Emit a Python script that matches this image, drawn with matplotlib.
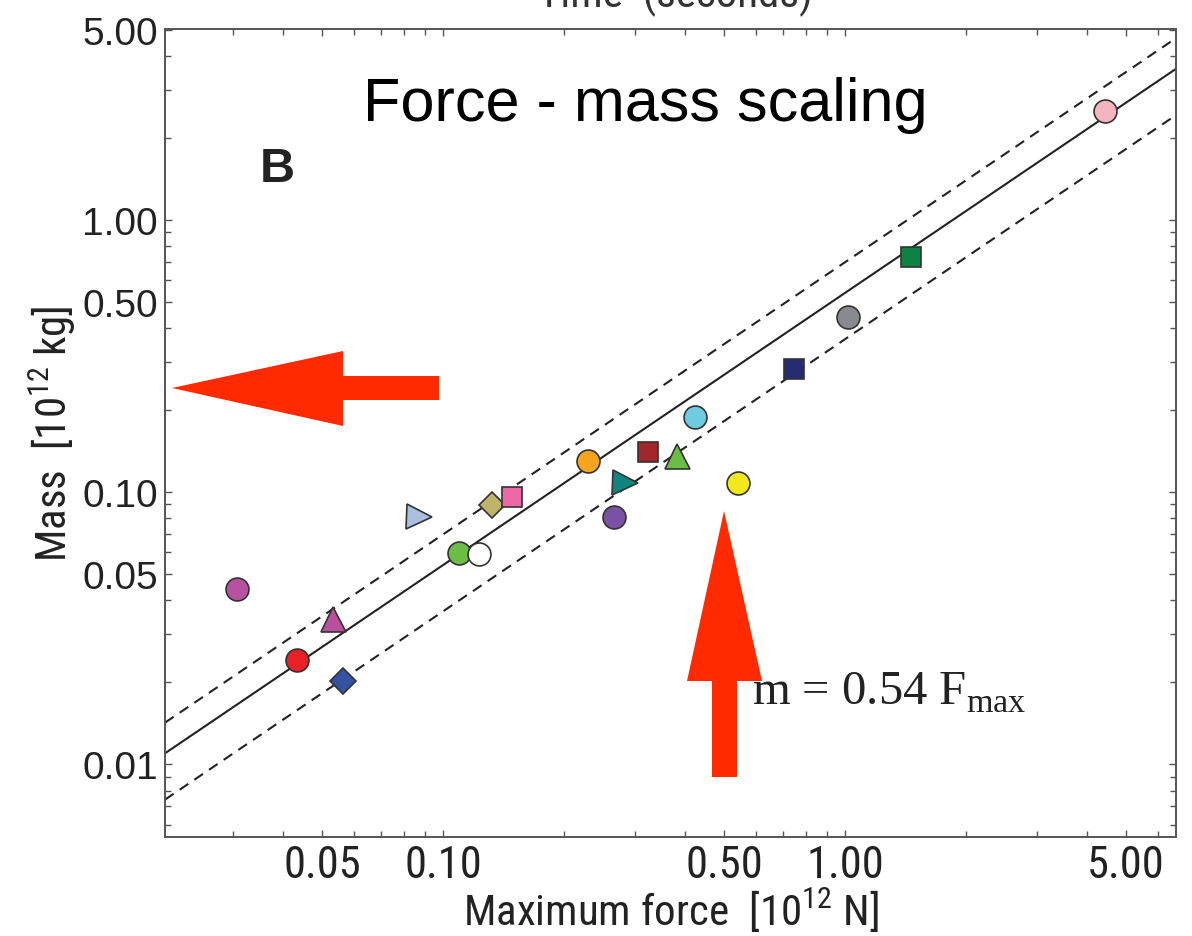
import matplotlib
matplotlib.use('Agg')
import matplotlib.pyplot as plt
from matplotlib.patches import Polygon
from matplotlib.ticker import FixedLocator, LogLocator, NullFormatter
import numpy as np

plt.rcParams['mathtext.fontset'] = 'custom'
plt.rcParams['mathtext.rm'] = 'Liberation Serif'
plt.rcParams['mathtext.sf'] = 'Roboto Condensed'

# species data: max force (1e12 N) vs mass (1e12 kg)
force = [0.0306, 0.0532, 0.0433, 0.0564, 0.0871, 0.1096, 0.123, 0.1324, 0.1485,
         0.2294, 0.2836, 0.266, 0.3236, 0.382, 0.4236, 0.542, 0.747, 1.017, 1.459, 4.43]
mass = [0.0440, 0.0341, 0.0241, 0.0202, 0.0809, 0.0597, 0.0592, 0.0896, 0.0959,
        0.130, 0.1079, 0.0809, 0.140, 0.1356, 0.1888, 0.1079, 0.283, 0.440, 0.731, 2.52]
shapes = ['o', '^', 'o', 'D', '>', 'o', 'o', 'D', 's',
          'o', '>', 'o', 's', '^', 'o', 'o', 's', 'o', 's', 'o']
colors = ['#B6529F', '#B94F9D', '#E82127', '#3652A3', '#A9BFDE', '#6BBF45', '#FFFFFF',
          '#BFB46A', '#EE6AA7', '#F7A51E', '#118481', '#7A52A3', '#A3262A', '#6ABD45',
          '#6DCCDD', '#F2E81C', '#262A70', '#898A8D', '#0E8242', '#F6B4C1']

slope = 0.54
slope_hi = 0.70
slope_lo = 0.365

xticks = [0.05, 0.10, 0.50, 1.00, 5.00]
yticks = [0.01, 0.05, 0.10, 0.50, 1.00, 5.00]

W, H = 1192, 937
fig = plt.figure(figsize=(W / 100, H / 100), dpi=100)
ax = fig.add_axes([165 / W, 1 - 838 / H, (1176 - 165) / W, (838 - 30) / H])
ax.set_xscale('log')
ax.set_yscale('log')
ax.set_xlim(0.0203, 6.65)
ax.set_ylim(0.0054, 5.03)

# fit line and its bounds
fx = np.array([0.0203, 6.65])
ax.plot(fx, slope * fx, color='#222222', lw=1.5, zorder=2)
for k in (slope_hi, slope_lo):
    ax.plot(fx, k * fx, color='#222222', lw=1.5, ls=(0, (5, 3.5)), zorder=2)

sizes = {'o': 16.5, 's': 15, 'D': 13, '^': 18, '>': 18}
for x, y, m, c in zip(force, mass, shapes, colors):
    ax.plot(x, y, marker=m, ms=sizes[m], mfc=c, mec='#333333', mew=1.2,
            ls='none', zorder=3)

narrow = ['Roboto Condensed', 'Roboto', 'DejaVu Sans']
ax.xaxis.set_major_locator(FixedLocator(xticks))
ax.set_xticklabels(['%.2f' % t for t in xticks], family=narrow, fontsize=32,
                   color='#222222')
ax.yaxis.set_major_locator(FixedLocator(yticks))
ax.set_yticklabels(['%.2f' % t for t in yticks], family='Liberation Sans', fontsize=28,
                   color='#222222')
for axis in (ax.xaxis, ax.yaxis):
    axis.set_minor_locator(LogLocator(base=10, subs=np.arange(1, 10)))
    axis.set_minor_formatter(NullFormatter())
ax.tick_params(which='both', direction='in', top=True, right=True,
               color='#555555', width=1.0)
ax.tick_params(which='major', length=5)
ax.tick_params(which='minor', length=4)
ax.tick_params(axis='x', which='major', pad=5)
ax.tick_params(axis='y', which='major', pad=5)
for s in ax.spines.values():
    s.set_color('#555555')
    s.set_linewidth(1.4)

ax.set_xlabel(r'Maximum force  [10$^{\mathsf{12}}$ N]', family=narrow, fontsize=31,
              labelpad=0, color='#222222')
ax.set_ylabel(r'Mass  [10$^{\mathsf{12}}$ kg]', family=narrow, fontsize=31,
              labelpad=3, color='#222222')

ax.text(645 / W, 1 - 106 / H, 'Force - mass scaling', transform=fig.transFigure,
        ha='center', va='center', family='Liberation Sans', fontsize=44)
ax.text(277 / W, 1 - 170 / H, 'B', transform=fig.transFigure, ha='center',
        va='center', family='Liberation Sans', fontweight='bold', fontsize=35,
        color='#222222')
ax.text(752 / W, 1 - 705 / H, r'm = 0.54 F$_{\mathrm{max}}$', transform=fig.transFigure,
        ha='left', va='baseline', family='Liberation Serif', fontsize=35,
        color='#222222')

# axis title of the panel above, cut by the top edge
fig.text(675 / W, 1 - 7 / H, 'Time  (seconds)', ha='center', va='baseline',
         family=narrow, fontsize=31, color='#333333')


def px_poly(pts, **kw):
    verts = [(x / W, 1 - y / H) for x, y in pts]
    fig.patches.append(Polygon(verts, closed=True, transform=fig.transFigure, **kw))


red = '#FF2A00'
px_poly([(172, 389), (343, 352), (343, 377), (439, 377), (439, 401), (343, 401),
         (343, 427)], facecolor=red, edgecolor='none', zorder=5)
px_poly([(724, 512), (762, 682), (737, 682), (737, 778), (712, 778), (712, 682),
         (687, 682)], facecolor=red, edgecolor='none', zorder=5)

fig.savefig('out.png', dpi=100)
